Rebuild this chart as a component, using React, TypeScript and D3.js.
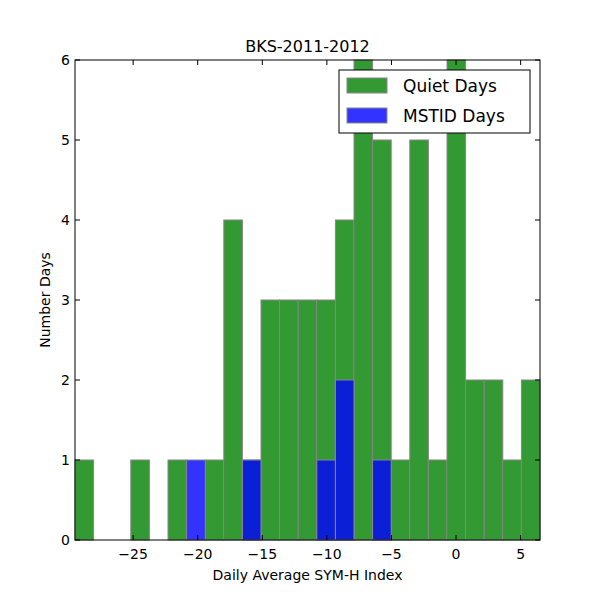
import React from "react";
import * as d3 from "d3";

const binStart = -29.5;
const binWidth = 1.44;
const quietCounts = [1,0,0,1,0,1,0,1,4,1,3,3,3,3,4,6,5,1,5,1,6,2,2,1,2];
const mstidCounts = [0,0,0,0,0,0,1,0,0,1,0,0,0,1,2,0,1,0,0,0,0,0,0,0,0];
const xTicks = [-25,-20,-15,-10,-5,0,5];
const yTicks = [0,1,2,3,4,5,6];

export default function App() {
  const W = 600, H = 600, L = 75, R = 540, T = 60, B = 540;
  const x = d3.scaleLinear().domain([-29.5, 6.5]).range([L, R]);
  const y = d3.scaleLinear().domain([0, 6]).range([B, T]);
  const font = "DejaVu Sans";
  const bars = (counts: number[], fill: string, op: number) =>
    counts.map((c, i) => c > 0 ? (
      <rect key={i} x={x(binStart + i * binWidth)} y={y(c)}
        width={x(binStart + (i + 1) * binWidth) - x(binStart + i * binWidth)}
        height={y(0) - y(c)} fill={fill} fillOpacity={op} stroke="#888" strokeWidth={1} />
    ) : null);
  return (
    <svg width={W} height={H} style={{ position: "absolute", left: 0, top: 0 }} fontFamily={font}>
      <rect width={W} height={H} fill="white" />
      <g>{bars(quietCounts, "#008000", 0.8)}</g>
      <g>{bars(mstidCounts, "#0000ff", 0.8)}</g>
      <rect x={L} y={T} width={R - L} height={B - T} fill="none" stroke="black" strokeWidth={1} />
      {xTicks.map(t => (
        <g key={t}>
          <line x1={x(t)} x2={x(t)} y1={B} y2={B - 5} stroke="black" />
          <line x1={x(t)} x2={x(t)} y1={T} y2={T + 5} stroke="black" />
          <text x={x(t)} y={B + 19} textAnchor="middle" fontSize={14}>{t < 0 ? "\u2212" + Math.abs(t) : t}</text>
        </g>
      ))}
      {yTicks.map(t => (
        <g key={t}>
          <line x1={L} x2={L + 5} y1={y(t)} y2={y(t)} stroke="black" />
          <line x1={R} x2={R - 5} y1={y(t)} y2={y(t)} stroke="black" />
          <text x={L - 5} y={y(t) + 5} textAnchor="end" fontSize={14}>{t}</text>
        </g>
      ))}
      <text x={(L + R) / 2} y={580} textAnchor="middle" fontSize={14}>Daily Average SYM-H Index</text>
      <text transform={`translate(50,${(T + B) / 2}) rotate(-90)`} textAnchor="middle" fontSize={14}>Number Days</text>
      <text x={(L + R) / 2} y={52} textAnchor="middle" fontSize={16}>BKS-2011-2012</text>
      <g>
        <rect x={339} y={70} width={191} height={63} fill="white" stroke="black" />
        <rect x={347} y={78} width={40} height={15} fill="#008000" fillOpacity={0.8} stroke="#888" />
        <text x={403} y={92} fontSize={17}>Quiet Days</text>
        <rect x={347} y={108} width={40} height={15} fill="#0000ff" fillOpacity={0.8} stroke="#888" />
        <text x={403} y={122} fontSize={17}>MSTID Days</text>
      </g>
    </svg>
  );
}
